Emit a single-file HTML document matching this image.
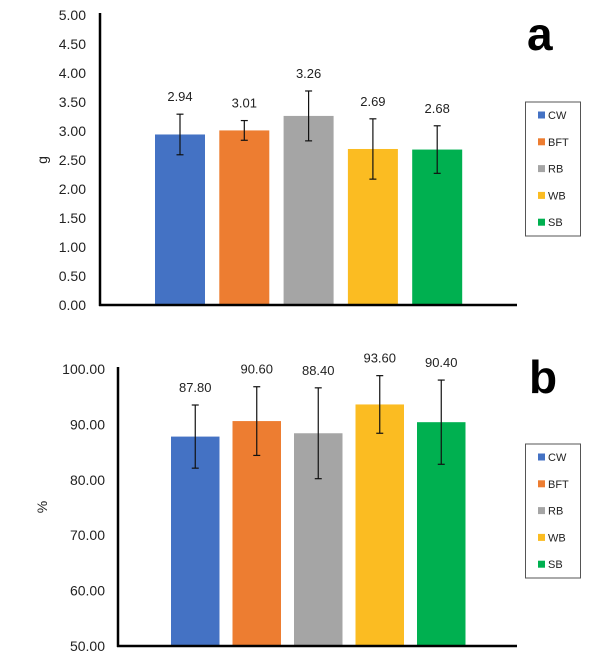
<!DOCTYPE html>
<html><head><meta charset="utf-8"><style>
html,body{margin:0;padding:0;background:#fff;width:608px;height:662px;overflow:hidden}
svg{display:block;font-family:"Liberation Sans",Arial,sans-serif}
</style></head><body>
<svg id="root" width="608" height="662" viewBox="0 0 608 662" xmlns="http://www.w3.org/2000/svg"></svg>
<script>
const categories = ["CW","BFT","RB","WB","SB"];
const colors = ["#4472C4","#ED7D31","#A5A5A5","#FBBC22","#00B050"];
const valuesA = [2.94,3.01,3.26,2.69,2.68];
const errorsA = [0.35,0.17,0.43,0.52,0.41];
const ticksA = [0,0.5,1,1.5,2,2.5,3,3.5,4,4.5,5];
const valuesB = [87.8,90.6,88.4,93.6,90.4];
const errorsB = [5.7,6.2,8.2,5.2,7.6];
const ticksB = [50,60,70,80,90,100];

const NS="http://www.w3.org/2000/svg";
const root=document.getElementById('root');
function mk(tag,attrs,parent,text){const e=document.createElementNS(NS,tag);for(const k in attrs)e.setAttribute(k,attrs[k]);if(text!==undefined)e.textContent=text;(parent||root).appendChild(e);return e;}

function drawChart(cfg){
  const g=mk('g',{});
  
  
  const y=v=>cfg.y0-(v-cfg.min)/(cfg.max-cfg.min)*(cfg.y0-cfg.y1);
  const x=i=>cfg.xStart+i*cfg.step;
  cfg.ticks.forEach(t=>{
    const tl=mk('text',{x:cfg.tickX,y:y(t)+5,'text-anchor':'end','font-size':14,fill:'#222'},g,t.toFixed(2));
    
    
  });
  cfg.values.forEach((v,i)=>{
    const b=mk('rect',{x:x(i),y:y(v),width:cfg.bw,height:cfg.y0-y(v),fill:colors[i]},g);
    
    
    const cx=x(i)+cfg.bw/2, e=cfg.errors[i];
    const eg=mk('g',{stroke:'#111','stroke-width':1.2},g);
    
    
    mk('line',{x1:cx,x2:cx,y1:y(v+e),y2:y(v-e)},eg);
    mk('line',{x1:cx-3.5,x2:cx+3.5,y1:y(v+e),y2:y(v+e)},eg);
    mk('line',{x1:cx-3.5,x2:cx+3.5,y1:y(v-e),y2:y(v-e)},eg);
    const lb=mk('text',{x:cx,y:y(v+e)-13,'text-anchor':'middle','font-size':13,fill:'#222'},g,v.toFixed(2));
    
    
  });
  const ax=mk('line',{x1:cfg.axisX,x2:cfg.axisX,y1:cfg.y1-2,y2:cfg.y0+1,stroke:'#000','stroke-width':2.5},g);
  
  
  const bx=mk('line',{x1:cfg.axisX-1,x2:517,y1:cfg.y0,y2:cfg.y0,stroke:'#000','stroke-width':2.5},g);
  
  
  const yt=mk('text',{x:47,y:cfg.titleY,'text-anchor':'middle','font-size':14,fill:'#222',transform:'rotate(-90 47 '+cfg.titleY+')'},g,cfg.title);
  
  
  const pl=mk('text',{x:cfg.letterX,y:cfg.letterY,'font-size':46,'font-weight':'bold',fill:'#000'},g,cfg.letter);
  
  
  const lg=mk('g',{},g);
  
  
  mk('rect',{x:525.5,y:cfg.legY,width:55,height:134,fill:'#fff',stroke:'#555','stroke-width':1},lg);
  categories.forEach((c,i)=>{
    const ey=cfg.legY+13+i*26.8;
    const en=mk('g',{},lg);
    
    
    mk('rect',{x:538,y:ey-3.5,width:7,height:7,fill:colors[i]},en);
    mk('text',{x:548,y:ey+4,'font-size':11,fill:'#222'},en,c);
  });
}

drawChart({name:'chart-a',values:valuesA,errors:errorsA,ticks:ticksA,min:0,max:5,y0:305,y1:15,
  xStart:155,step:64.3,bw:50,axisX:100,tickX:86,title:'g',titleY:160,letter:'a',letterX:527,letterY:50,legY:102});
drawChart({name:'chart-b',values:valuesB,errors:errorsB,ticks:ticksB,min:50,max:100,y0:646,y1:369,
  xStart:171,step:61.5,bw:48.5,axisX:118,tickX:105,title:'%',titleY:507,letter:'b',letterX:529,letterY:393,legY:444});
</script>
</body></html>
